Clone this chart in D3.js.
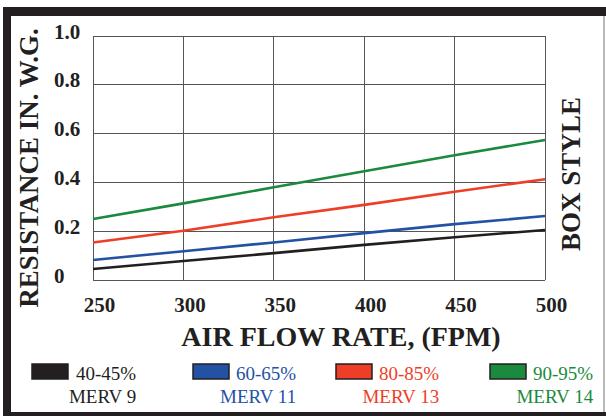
<!DOCTYPE html>
<html>
<head>
<meta charset="utf-8">
<script src="https://cdn.jsdelivr.net/npm/d3@7"></script>
<style>
  html, body { margin: 0; padding: 0; background: #fff; }
  svg { display: block; }
  text { font-family: "Liberation Serif", "Times New Roman", serif; }
</style>
</head>
<body>
<svg id="chart" width="606" height="416"></svg>
<script>
// ---- data ----
const airFlow = [250, 300, 350, 400, 450, 500];
const merv9  = [0.045, 0.078, 0.110, 0.144, 0.175, 0.205];
const merv11 = [0.082, 0.118, 0.154, 0.192, 0.229, 0.262];
const merv13 = [0.154, 0.202, 0.257, 0.308, 0.362, 0.413];
const merv14 = [0.250, 0.314, 0.380, 0.446, 0.511, 0.574];
const seriesNames = ["40-45%", "60-65%", "80-85%", "90-95%"];
const seriesSub = ["MERV 9", "MERV 11", "MERV 13", "MERV 14"];
const xTicks = [250, 300, 350, 400, 450, 500];
const yTicks = [0, 0.2, 0.4, 0.6, 0.8, 1.0];
const yTickLabels = ["0", "0.2", "0.4", "0.6", "0.8", "1.0"];

const colors = ["#231f20", "#2352a4", "#ee3e28", "#1b8a3e"];
const allSeries = [merv9, merv11, merv13, merv14];

const svg = d3.select("#chart");
const dark = "#231f20";

// ---- frame ----
svg.append("rect").attr("x", 3).attr("y", 7).attr("width", 603).attr("height", 9).attr("fill", dark);
svg.append("rect").attr("x", 3).attr("y", 7).attr("width", 8).attr("height", 409).attr("fill", dark);
svg.append("rect").attr("x", 3).attr("y", 412).attr("width", 603).attr("height", 4).attr("fill", dark);
svg.append("line").attr("x1", 604).attr("x2", 604).attr("y1", 16).attr("y2", 412)
  .attr("stroke", "#8a8a8a").attr("stroke-width", 1.2);

// ---- scales ----
const x = d3.scaleLinear().domain([250, 500]).range([93, 545]);
const y = d3.scaleLinear().domain([0, 1]).range([280, 36]);

// ---- grid ----
const grid = svg.append("g").attr("stroke", "#555").attr("stroke-width", 1).attr("shape-rendering", "crispEdges");
grid.selectAll("line.v").data(xTicks).join("line")
  .attr("x1", d => x(d)).attr("x2", d => x(d)).attr("y1", y(1)).attr("y2", y(0));
grid.selectAll("line.h").data(yTicks).join("line")
  .attr("x1", x(250)).attr("x2", x(500)).attr("y1", d => y(d)).attr("y2", d => y(d));

// ---- axes labels ----
const xAxis = d3.axisBottom(x).tickValues(xTicks).tickSize(0).tickFormat(d3.format("d"));
const gx = svg.append("g").attr("transform", `translate(6,${y(0)})`).call(xAxis);
gx.select(".domain").remove();
gx.selectAll("text").attr("y", 32).attr("dy", 0)
  .attr("font-family", "Liberation Serif").attr("font-weight", "bold")
  .attr("font-size", 21).attr("fill", dark);

const yAxis = d3.axisLeft(y).tickValues(yTicks).tickSize(0).tickFormat((d, i) => yTickLabels[i]);
const gy = svg.append("g").attr("transform", `translate(54,0)`).call(yAxis);
gy.select(".domain").remove();
gy.selectAll("text").attr("x", 0).attr("dy", 2).attr("text-anchor", "start")
  .attr("font-family", "Liberation Serif").attr("font-weight", "bold")
  .attr("font-size", 21).attr("fill", dark);

// ---- lines ----
const line = d3.line().x((d, i) => x(airFlow[i])).y(d => y(d));
svg.append("g").selectAll("path").data(allSeries).join("path")
  .attr("d", d => line(d))
  .attr("fill", "none")
  .attr("stroke", (d, i) => colors[i])
  .attr("stroke-width", 2.6);

// ---- titles ----
svg.append("text").attr("x", 341).attr("y", 346).attr("text-anchor", "middle")
  .attr("font-weight", "bold").attr("font-size", 28).attr("fill", dark)
  .text("AIR FLOW RATE, (FPM)");

svg.append("text").attr("transform", "translate(38,168) rotate(-90)").attr("text-anchor", "middle")
  .attr("font-weight", "bold").attr("font-size", 27).attr("fill", dark)
  .text("RESISTANCE IN. W.G.");

svg.append("text").attr("transform", "translate(580,174) rotate(-90)").attr("text-anchor", "middle")
  .attr("font-weight", "bold").attr("font-size", 27).attr("fill", dark)
  .text("BOX STYLE");

// ---- legend ----
const legendX = [32, 193, 336, 490];
const lg = svg.append("g");
seriesNames.forEach((name, i) => {
  const g = lg.append("g").attr("transform", `translate(${legendX[i]},0)`);
  g.append("rect").attr("x", 0).attr("y", 364).attr("width", 36).attr("height", 15)
    .attr("fill", colors[i]).attr("stroke", dark).attr("stroke-width", 1.5);
  const t = g.append("text").attr("x", i === 0 ? 44 : 43).attr("y", 380)
    .attr("font-size", 19).attr("fill", colors[i]).text(name);
  const right = (i === 0 ? 44 : 43) + t.node().getComputedTextLength();
  g.append("text").attr("x", right).attr("y", 403).attr("text-anchor", "end")
    .attr("font-size", 19).attr("fill", colors[i]).text(seriesSub[i]);
});
</script>
</body>
</html>
